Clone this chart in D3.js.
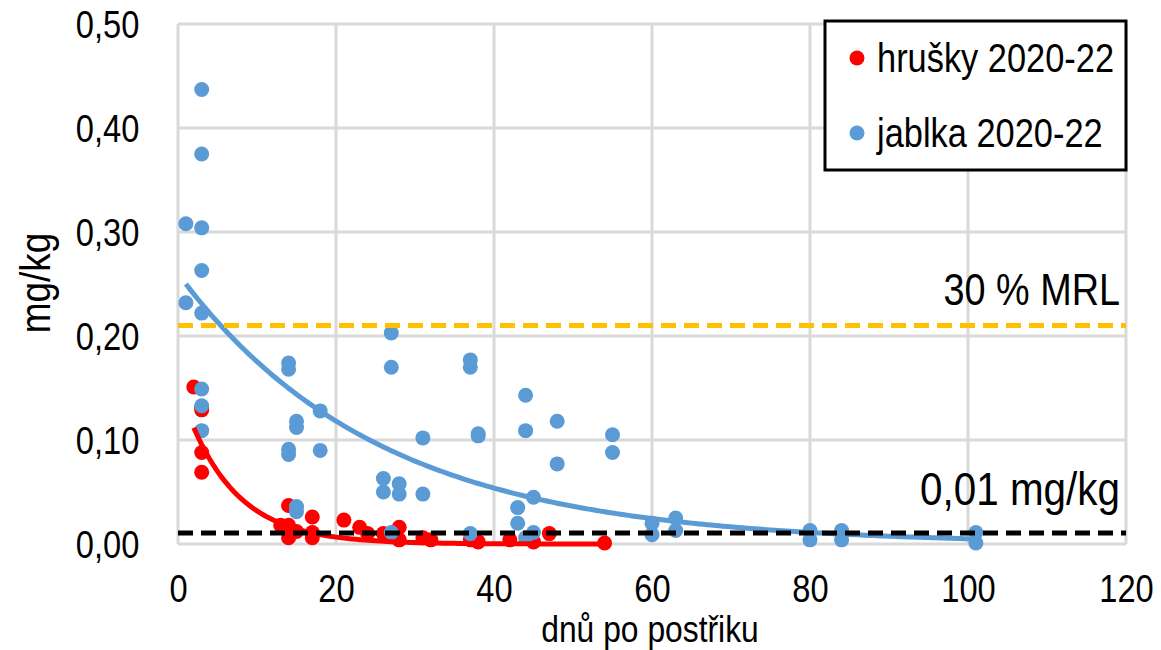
<!DOCTYPE html>
<html>
<head>
<meta charset="utf-8">
<script src="https://cdn.jsdelivr.net/npm/d3@7"></script>
<style>
  body { margin: 0; background: #fff; }
  svg text { font-family: "Liberation Sans", Arial, sans-serif; fill: #000; }
</style>
</head>
<body>
<svg id="chart" width="1161" height="650"></svg>
<script>
// hrušky (pears) 2020-22: days after spray / residue mg/kg
var pearDays = [2, 3, 3, 3, 3, 13, 14, 14, 14, 14, 15, 17, 17, 17, 21, 23, 24, 26, 28, 28, 31, 32, 37, 38, 42, 45, 47, 54];
var pearVals = [0.151, 0.131, 0.129, 0.088, 0.069, 0.018, 0.037, 0.018, 0.011, 0.006, 0.012, 0.026, 0.011, 0.006,
                0.023, 0.016, 0.010, 0.010, 0.016, 0.004, 0.006, 0.004, 0.004, 0.002, 0.004, 0.002, 0.010, 0.001];

// jablka (apples) 2020-22
var appleDays = [1, 1, 3, 3, 3, 3, 3, 3, 3, 3, 14, 14, 14, 14, 15, 15, 15, 15, 18, 18,
                 26, 26, 27, 27, 27, 28, 28, 31, 31, 37, 37, 37, 38, 38, 43, 43, 44, 44, 44, 45, 45,
                 48, 48, 55, 55, 60, 60, 63, 63, 80, 80, 84, 84, 101, 101];
var appleVals = [0.308, 0.232, 0.437, 0.375, 0.304, 0.263, 0.222, 0.149, 0.133, 0.109,
                 0.174, 0.168, 0.091, 0.086, 0.118, 0.112, 0.036, 0.031, 0.128, 0.090,
                 0.063, 0.050, 0.203, 0.170, 0.011, 0.058, 0.048, 0.102, 0.048, 0.177, 0.170, 0.010, 0.106, 0.104,
                 0.035, 0.020, 0.143, 0.109, 0.006, 0.045, 0.011,
                 0.118, 0.077, 0.105, 0.088, 0.020, 0.009, 0.025, 0.013, 0.013, 0.004, 0.013, 0.004, 0.011, 0.001];

// exponential trendlines y = a * exp(-b * x)
var pearTrend = {a: 0.153, b: 0.157, from: 2, to: 54};
var appleTrend = {a: 0.260, b: 0.0394, from: 1, to: 101};

var xTicks = [0, 20, 40, 60, 80, 100, 120];
var yTicks = [0, 0.1, 0.2, 0.3, 0.4, 0.5];
var mrlLimit = 0.21;     // 30 % MRL
var loqLimit = 0.0105;   // 0,01 mg/kg

var svg = d3.select('#chart');
var plotL = 178, plotR = 1126, plotT = 24, plotB = 544;
var squeeze = 0.86;      // narrow the text like the original (condensed look)

var x = d3.scaleLinear().domain([0, 120]).range([plotL, plotR]);
var y = d3.scaleLinear().domain([0, 0.5]).range([plotB, plotT]);
var fmt = function(d) { return d3.format('.2f')(d).replace('.', ','); };

function label(px, py, str, size, anchor, rotate) {
    return svg.append('text')
        .attr('transform', 'translate(' + px + ',' + py + ')' + (rotate ? ' rotate(' + rotate + ')' : '') +
              ' scale(' + squeeze + ',1)')
        .attr('text-anchor', anchor || 'start')
        .style('font-size', size + 'px')
        .text(str);
}

// grid
var grid = svg.append('g');
grid.selectAll('line.gx').data(xTicks).enter().append('line')
    .attr('x1', d => x(d)).attr('x2', d => x(d))
    .attr('y1', plotT).attr('y2', plotB)
    .attr('stroke', '#d9d9d9').attr('stroke-width', 3);
grid.selectAll('line.gy').data(yTicks).enter().append('line')
    .attr('x1', plotL).attr('x2', plotR)
    .attr('y1', d => y(d)).attr('y2', d => y(d))
    .attr('stroke', '#d9d9d9').attr('stroke-width', 3);

// axes (labels only, Excel style)
var yAxis = svg.append('g').attr('transform', 'translate(' + (plotL - 36) + ',0)')
    .call(d3.axisLeft(y).tickValues(yTicks).tickFormat(fmt).tickSize(0));
var xAxis = svg.append('g').attr('transform', 'translate(0,' + (plotB + 30) + ')')
    .call(d3.axisBottom(x).tickValues(xTicks).tickFormat(d3.format('d')).tickSize(0));
[xAxis, yAxis].forEach(function(a) {
    a.select('.domain').remove();
    a.selectAll('text').style('font-size', '38px').attr('fill', '#000')
        .attr('transform', 'scale(' + squeeze + ',1)');
});
yAxis.selectAll('text').attr('dy', '0.36em');
xAxis.selectAll('text').attr('dy', '0.66em');

// points
function dots(days, vals, color) {
    svg.append('g').selectAll('circle').data(d3.zip(days, vals)).enter().append('circle')
        .attr('cx', d => x(d[0])).attr('cy', d => y(d[1]))
        .attr('r', 7.5).attr('fill', color);
}
dots(pearDays, pearVals, '#ff0000');
dots(appleDays, appleVals, '#5b9bd5');

// trendlines
function trend(t, color) {
    var xs = d3.range(t.from, t.to + 0.01, 0.5);
    svg.append('path')
        .datum(xs)
        .attr('fill', 'none').attr('stroke', color).attr('stroke-width', 5)
        .attr('d', d3.line().x(d => x(d)).y(d => y(t.a * Math.exp(-t.b * d))));
}
trend(pearTrend, '#ff0000');
trend(appleTrend, '#5b9bd5');

// reference lines
svg.append('line')
    .attr('x1', plotL).attr('x2', plotR).attr('y1', y(mrlLimit)).attr('y2', y(mrlLimit))
    .attr('stroke', '#ffc000').attr('stroke-width', 5).attr('stroke-dasharray', '15,8');
svg.append('line')
    .attr('x1', plotL).attr('x2', plotR).attr('y1', y(loqLimit)).attr('y2', y(loqLimit))
    .attr('stroke', '#000').attr('stroke-width', 5).attr('stroke-dasharray', '15,8');

label(1120, 305, '30 % MRL', 44, 'end');
label(1120, 505, '0,01 mg/kg', 47, 'end');

// axis titles
label(50, 283, 'mg/kg', 43, 'middle', -90);
label(650, 642, 'dnů po postřiku', 37, 'middle');

// legend
var legendNames = ['hrušky 2020-22', 'jablka 2020-22'];
var legendColors = ['#ff0000', '#5b9bd5'];
svg.append('rect').attr('x', 825).attr('y', 21).attr('width', 301).attr('height', 149)
    .attr('fill', '#fff').attr('stroke', '#000').attr('stroke-width', 3);
legendNames.forEach(function(name, i) {
    var ly = 58 + i * 75;
    svg.append('circle').attr('cx', 857).attr('cy', ly).attr('r', 7.5).attr('fill', legendColors[i]);
    label(877, ly + 14, name, 40, 'start');
});
</script>
</body>
</html>
